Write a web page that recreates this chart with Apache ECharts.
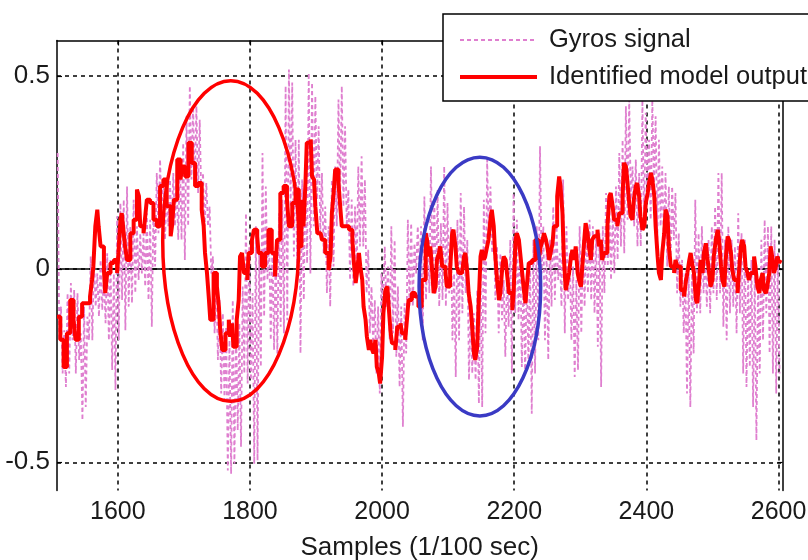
<!DOCTYPE html>
<html><head><meta charset="utf-8">
<script src="https://cdn.jsdelivr.net/npm/echarts@6/dist/echarts.min.js"></script>
<style>html,body{margin:0;padding:0;background:#fff}#c{width:808px;height:560px}</style>
</head><body><div id="c"></div>
<script>
const xTicks = [1600, 1800, 2000, 2200, 2400, 2600];
const yTicks = [-0.5, 0, 0.5];
const seriesNames = ['Gyros signal', 'Identified model output'];

// Gyros signal readings, one every 2.5 samples starting at sample 1509
const gyroStart = 1509, gyroStep = 2.5;
const gyroValues = [
0.301,-0.184,-0.097,-0.270,-0.158,-0.305,-0.062,-0.270,-0.036,-0.184,-0.054,-0.270,-0.062,-0.235,-0.166,-0.391,-0.097,-0.357,-0.123,-0.184,
0.033,-0.184,0.033,-0.097,-0.011,-0.123,0.024,-0.106,-0.019,-0.140,0.041,-0.184,0.024,-0.261,-0.011,-0.313,0.137,-0.184,0.171,-0.080,
0.180,-0.158,0.214,-0.097,0.111,-0.088,0.180,-0.062,0.111,-0.028,0.093,-0.011,0.093,-0.045,0.145,-0.080,0.128,-0.149,0.162,0.007,
0.249,0.093,0.284,0.128,0.232,0.076,0.206,0.111,0.232,0.093,0.249,0.111,0.232,0.076,0.284,0.076,0.327,0.024,0.396,0.111,
0.474,0.232,0.422,0.223,0.422,0.197,0.387,0.171,0.249,0.111,0.223,0.111,0.162,-0.011,0.033,-0.166,-0.011,-0.235,-0.080,-0.322,
-0.114,-0.339,-0.149,-0.521,-0.184,-0.530,-0.080,-0.504,-0.149,-0.417,-0.140,-0.460,-0.045,-0.270,0.145,-0.296,0.059,-0.287,-0.062,-0.504,
0.111,-0.495,0.050,-0.253,0.301,-0.123,0.214,-0.028,0.076,-0.184,0.059,-0.209,0.041,-0.218,0.145,-0.149,0.180,-0.166,0.474,-0.132,
0.517,0.162,0.483,0.033,0.335,-0.011,
0.335,-0.218,0.232,-0.080,0.266,0.015,0.508,-0.011,0.483,0.111,0.448,0.180,0.370,0.093,0.249,0.041,0.162,-0.062,0.111,-0.097,
0.232,0.007,0.266,0.111,0.439,0.180,0.474,0.162,0.370,0.111,0.206,-0.028,0.180,-0.045,0.162,-0.011,0.266,0.059,0.292,0.059,
0.232,-0.062,0.050,-0.166,-0.045,-0.201,-0.080,-0.270,-0.097,-0.322,-0.011,-0.097,0.059,-0.097,0.007,-0.184,0.111,-0.166,0.076,-0.227,
-0.045,-0.305,-0.097,-0.408,-0.088,-0.218,0.128,-0.097,0.119,-0.097,0.067,-0.011,0.111,-0.011,0.111,-0.184,0.188,-0.080,0.093,-0.062,
0.266,-0.028,0.180,-0.062,0.206,-0.097,0.119,-0.080,0.266,-0.097,0.171,-0.062,0.111,-0.184,-0.011,-0.279,0.128,-0.184,0.197,-0.114,
0.162,-0.062,0.076,-0.287,-0.097,-0.270,-0.114,-0.287,-0.054,-0.348,0.007,-0.357,0.180,-0.166,0.284,0.076,0.214,0.041,0.111,-0.080,
0.059,-0.166,0.041,-0.132,-0.028,-0.227,-0.011,-0.149,0.076,-0.270,0.197,-0.114,0.128,-0.132,0.059,-0.253,-0.028,-0.270,-0.011,-0.253,
0.024,-0.374,0.076,-0.270,0.111,-0.184,
0.318,-0.011,0.111,-0.184,0.041,-0.235,0.076,-0.097,0.162,-0.080,0.111,-0.028,0.041,-0.097,0.232,-0.166,0.111,-0.080,0.041,-0.184,
0.007,-0.279,-0.028,-0.261,0.111,-0.166,0.076,-0.097,0.111,-0.062,0.128,-0.080,0.111,-0.114,0.093,-0.201,0.093,-0.305,0.111,-0.062,
0.197,0.007,0.162,-0.028,0.145,-0.011,0.214,0.024,0.301,0.059,0.335,0.041,0.422,0.128,0.439,0.180,0.266,0.111,0.284,0.059,
0.249,0.059,0.439,0.111,0.405,0.197,0.335,0.128,0.439,0.214,0.396,0.076,0.335,0.111,0.266,0.059,0.249,0.007,0.214,0.007,
0.214,0.076,0.197,-0.062,0.093,-0.097,0.024,-0.166,-0.011,-0.322,-0.011,-0.357,-0.011,-0.218,0.180,-0.114,0.093,-0.114,0.111,-0.062,
0.041,-0.097,0.076,-0.114,0.111,-0.062,0.162,-0.080,0.249,-0.062,0.249,-0.149,0.076,-0.184,0.111,-0.114,0.076,-0.097,0.059,-0.166,
0.145,-0.114,0.093,-0.270,0.076,-0.305,-0.011,-0.253,0.024,-0.357,-0.011,-0.443,-0.028,-0.270,0.076,-0.184,0.128,-0.114,0.111,-0.218,
0.111,-0.270,0.076,-0.322,0.041,-0.270
];

// Identified model output: [sample, value]
const modelOutput = [
[1508,-0.123],[1513,-0.183],[1518,-0.253],[1523,-0.166],[1528,-0.080],[1533,-0.131],[1536,-0.183],[1541,-0.123],[1546,-0.088],[1553,-0.088],
[1558,-0.071],[1561,-0.028],[1563,0.007],[1566,0.111],[1569,0.154],[1571,0.111],[1574,0.059],[1579,-0.002],[1581,-0.062],[1584,-0.010],
[1589,0.016],[1594,0.024],[1599,-0.010],[1601,0.042],[1604,0.128],[1606,0.145],[1609,0.093],[1611,0.059],[1614,0.024],[1619,0.093],
[1624,0.128],[1629,0.206],[1632,0.189],[1634,0.111],[1639,0.093],[1642,0.145],[1644,0.180],[1649,0.171],[1654,0.128],[1659,0.111],
[1664,0.215],[1669,0.232],[1674,0.163],[1680,0.085],[1682,0.111],[1685,0.180],[1690,0.284],[1695,0.232],[1697,0.266],[1702,0.240],
[1707,0.327],[1712,0.275],[1717,0.215],[1722,0.223],[1727,0.154],[1730,0.111],[1732,0.042],[1735,-0.010],[1738,-0.080],[1740,-0.131],
[1745,-0.010],[1748,-0.010],[1750,-0.045],[1753,-0.097],[1755,-0.157],[1758,-0.209],[1763,-0.166],[1768,-0.131],[1770,-0.175],[1773,-0.140],
[1775,-0.201],[1780,-0.131],[1783,-0.080],[1785,0.033],[1788,0.042],[1791,-0.010],[1796,-0.028],[1798,0.042],[1803,0.076],[1806,0.102],
[1811,0.085],[1813,0.042],[1818,0.007],[1823,0.042],[1828,0.102],[1833,0.042],[1838,-0.019],[1841,0.076],[1846,0.197],[1851,0.215],
[1856,0.180],[1859,0.111],[1864,0.171],[1869,0.206],
[1874,0.059],[1878,0.180],[1881,0.111],[1884,0.223],[1886,0.327],[1892,0.336],[1894,0.240],[1897,0.232],[1899,0.163],[1902,0.093],
[1907,0.093],[1909,0.076],[1914,0.042],[1919,-0.002],[1922,0.033],[1924,0.145],[1927,0.206],[1929,0.258],[1932,0.258],[1934,0.223],
[1937,0.154],[1939,0.111],[1944,0.111],[1950,0.102],[1955,0.076],[1957,0.024],[1960,-0.036],[1962,-0.010],[1965,0.042],[1967,0.007],
[1970,-0.028],[1972,-0.097],[1975,-0.131],[1977,-0.175],[1980,-0.209],[1982,-0.183],[1985,-0.209],[1987,-0.218],[1990,-0.183],[1992,-0.253],
[1995,-0.270],[1997,-0.296],[2000,-0.227],[2002,-0.114],[2005,-0.054],[2008,-0.045],[2010,-0.097],[2013,-0.166],[2015,-0.192],[2020,-0.209],
[2023,-0.149],[2028,-0.140],[2030,-0.166],[2035,-0.183],[2038,-0.123],[2040,-0.080],[2045,-0.062],[2050,-0.071],[2055,-0.097],[2060,-0.028],
[2066,0.093],[2068,0.076],[2071,0.033],[2073,0.059],[2076,-0.010],[2078,-0.062],[2081,-0.045],[2083,0.024],[2086,0.042],[2088,0.059],
[2091,0.007],[2096,-0.010],[2098,-0.045],[2103,-0.002],[2106,0.093],[2108,0.102],[2111,0.059],[2113,0.007],[2116,-0.010],[2121,-0.010],
[2124,0.033],[2126,0.042],[2129,-0.010],[2131,-0.062],[2134,-0.097],[2136,-0.140],[2139,-0.218],[2141,-0.235],[2144,-0.201],[2146,-0.097],
[2149,0.033],[2151,0.050],[2154,0.024],[2156,0.033],[2159,0.059],[2161,0.076],[2164,0.128],[2166,0.154],[2169,0.111],[2171,0.042],
[2174,-0.028],[2177,-0.080],[2179,-0.062],[2182,0.007],[2184,0.033],[2187,0.024],[2189,-0.010],[2192,-0.062],[2197,-0.106],[2199,-0.062],
[2202,0.076],[2204,0.093],[2207,0.076],[2209,0.042],[2212,-0.010],[2214,-0.045],[2217,-0.088],[2219,-0.045],[2222,0.016],[2227,0.024],
[2232,0.076],[2237,0.024],
[2240,0.059],[2243,0.076],[2245,0.093],[2248,0.076],[2250,0.059],[2253,0.024],[2255,0.042],[2258,0.067],[2260,0.111],[2263,0.111],
[2265,0.189],[2268,0.240],[2270,0.215],[2273,0.145],[2275,0.033],[2278,-0.054],[2280,-0.036],[2283,-0.010],[2286,0.033],[2288,0.050],
[2291,0.024],[2293,0.059],[2296,-0.010],[2298,-0.028],[2301,-0.045],[2303,0.007],[2306,0.076],[2308,0.119],[2311,0.093],[2313,0.059],
[2316,0.024],[2318,0.076],[2321,0.085],[2326,0.102],[2328,0.059],[2331,0.076],[2333,0.024],[2336,0.042],[2341,0.111],[2344,0.189],
[2346,0.197],[2349,0.163],[2351,0.128],[2356,0.111],[2359,0.145],[2364,0.189],[2366,0.275],[2369,0.266],[2371,0.232],[2374,0.171],
[2376,0.137],[2379,0.128],[2381,0.180],[2384,0.215],[2386,0.223],[2389,0.189],[2391,0.137],[2394,0.102],[2397,0.111],[2399,0.171],
[2402,0.197],[2404,0.223],[2407,0.249],[2409,0.232],[2412,0.189],[2414,0.111],[2417,0.033],[2419,-0.010],[2422,-0.028],[2424,0.042],
[2427,0.093],[2429,0.154],[2432,0.137],[2434,0.059],[2437,0.007],[2439,0.007],[2442,-0.010],[2444,0.024],[2447,0.007],[2452,-0.054],
[2457,-0.071],[2460,-0.028],[2462,-0.010],[2465,0.024],[2467,0.042],[2470,0.007],[2472,-0.010],[2475,-0.080],[2477,-0.088],[2480,-0.028],
[2482,0.024],[2485,-0.010],[2487,0.042],[2490,0.067],[2492,0.033],[2495,-0.010],[2497,-0.045],[2500,-0.028],[2502,0.033],[2505,0.076],
[2508,0.102],[2510,0.076],[2513,0.007],[2515,-0.028],[2518,-0.045],[2520,0.024],[2523,0.085],[2525,0.076],[2528,0.042],[2530,-0.002],
[2533,-0.028],[2538,-0.062],[2540,-0.010],[2543,0.059],[2545,0.076],[2548,0.059],[2550,0.007],[2553,-0.010],[2555,-0.028],[2558,-0.010],
[2563,0.033],[2565,0.007],[2568,-0.045],[2571,-0.062],[2573,-0.028],[2576,-0.010],[2578,-0.054],[2581,-0.062],[2583,-0.045],[2586,-0.010],
[2588,0.059],[2591,0.024],[2593,-0.010],[2596,0.007],[2598,0.033],[2601,0.016],[2603,0.024]
];

// Annotation ellipses, in data units (centre sample, centre value, half-width in samples, half-height in value)
const annotations = [
  {cx: 1771, cy: 0.073, rx: 103, ry: 0.415, color: '#ff0000'},
  {cx: 2148, cy: -0.045, rx: 92, ry: 0.335, color: '#3a3ac4'}
];

const gyroData = gyroValues.map((v, i) => [gyroStart + i * gyroStep, v]);

const FONT = '"Liberation Sans", Arial, sans-serif';
const TXT = '#1a1a1a';
const X_MIN = 1508, X_MAX = 2606, Y_MIN = -0.573, Y_MAX = 0.592;

const chart = echarts.init(document.getElementById('c'));
chart.setOption({
  animation: false,
  backgroundColor: '#ffffff',
  grid: {left: 57, right: 25.5, top: 40.5, bottom: 69.5, containLabel: false, outerBoundsMode: 'none'},
  legend: {
    data: seriesNames, left: 443, top: 14, orient: 'vertical',
    itemWidth: 77, itemHeight: 24, itemGap: 11,
    padding: [13, 20, 11, 15],
    borderColor: '#000', borderWidth: 1.5, backgroundColor: '#fff',
    itemStyle: {opacity: 0},
    lineStyle: {width: 'inherit'},
    textStyle: {fontSize: 25.5, fontFamily: FONT, color: TXT, padding: [0, 0, 0, 7]},
    z: 20
  },
  xAxis: [{
    type: 'value', min: X_MIN, max: X_MAX, position: 'bottom',
    axisLine: {lineStyle: {color: '#000', width: 1.5}},
    axisTick: {inside: true, length: 5, customValues: xTicks, lineStyle: {color: '#000', width: 1.2}},
    axisLabel: {customValues: xTicks, color: TXT, fontSize: 25, fontFamily: FONT, margin: 9,
      formatter: v => String(v)},
    splitLine: {show: true, lineStyle: {color: '#000', width: 1.5, type: [4, 4]}},
    name: 'Samples (1/100 sec)', nameLocation: 'middle', nameGap: 44,
    nameTextStyle: {color: TXT, fontSize: 26, fontFamily: FONT}
  }, {
    type: 'value', min: X_MIN, max: X_MAX, position: 'top',
    axisLine: {onZero: false, lineStyle: {color: '#000', width: 1.5}},
    axisTick: {inside: true, length: 5, customValues: xTicks, lineStyle: {color: '#000', width: 1.2}},
    axisLabel: {show: false}, splitLine: {show: false}
  }],
  yAxis: [{
    type: 'value', min: Y_MIN, max: Y_MAX, position: 'left',
    axisLine: {onZero: false, lineStyle: {color: '#000', width: 1.5}},
    axisTick: {inside: true, length: 5, customValues: yTicks, lineStyle: {color: '#000', width: 1.2}},
    axisLabel: {customValues: yTicks, color: TXT, fontSize: 26, fontFamily: FONT, margin: 7,
      formatter: v => (v === 0 ? '0' : String(v))},
    splitLine: {show: true, lineStyle: {color: '#000', width: 1.5, type: [4, 4]}}
  }, {
    type: 'value', min: Y_MIN, max: Y_MAX, position: 'right',
    axisLine: {onZero: false, lineStyle: {color: '#000', width: 1.5}},
    axisTick: {inside: true, length: 5, customValues: yTicks, lineStyle: {color: '#000', width: 1.2}},
    axisLabel: {show: false}, splitLine: {show: false}
  }],
  series: [{
    name: seriesNames[0], type: 'line', data: gyroData, symbol: 'none',
    xAxisIndex: 0, yAxisIndex: 0,
    lineStyle: {color: '#df7fcf', width: 1.8, type: [4, 3]},
    itemStyle: {color: '#df7fcf'}
  }, {
    name: seriesNames[1], type: 'line', data: modelOutput, symbol: 'none', step: 'end',
    xAxisIndex: 0, yAxisIndex: 0,
    lineStyle: {color: '#ff0000', width: 4},
    itemStyle: {color: '#ff0000'}
  }]
});

const shapes = annotations.map(a => {
  const c = chart.convertToPixel({seriesIndex: 1}, [a.cx, a.cy]);
  const p = chart.convertToPixel({seriesIndex: 1}, [a.cx + a.rx, a.cy + a.ry]);
  return {
    type: 'ellipse', z: 50,
    shape: {cx: c[0], cy: c[1], rx: Math.abs(p[0] - c[0]), ry: Math.abs(c[1] - p[1])},
    style: {fill: null, stroke: a.color, lineWidth: 3.5}
  };
});
chart.setOption({graphic: shapes});
</script>
</body></html>
